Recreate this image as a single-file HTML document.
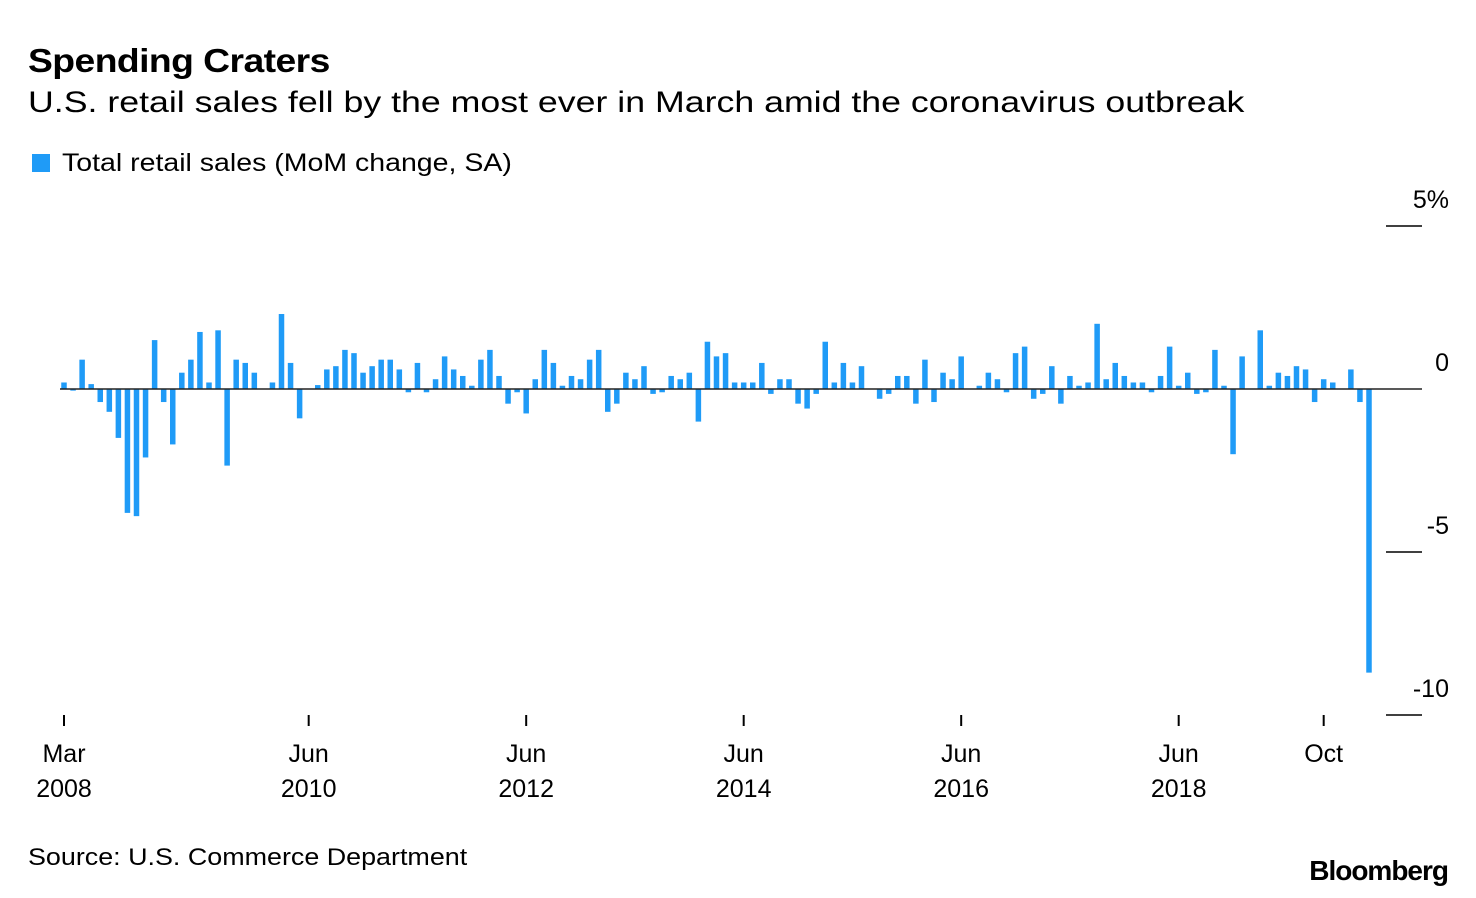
<!DOCTYPE html>
<html><head><meta charset="utf-8"><style>
body{margin:0;background:#fff;width:1476px;height:898px;overflow:hidden;font-family:"Liberation Sans",sans-serif;color:#000}
.t{position:absolute;white-space:nowrap;transform-origin:0 0}
</style></head><body>
<div class="t" style="left:28px;top:42px;font-size:33px;font-weight:bold;letter-spacing:-0.5px;transform:scaleX(1.13)">Spending Craters</div>
<div class="t" style="left:28px;top:86px;font-size:30px;transform:scaleX(1.19)">U.S. retail sales fell by the most ever in March amid the coronavirus outbreak</div>
<div class="t" style="left:32px;top:149px;font-size:25px"><span style="display:inline-block;width:18px;height:18px;background:#1f9bf7;margin-right:12px;vertical-align:-1px"></span><span style="display:inline-block;transform:scaleX(1.14);transform-origin:0 0">Total retail sales (MoM change, SA)</span></div>
<svg id="chart" width="1476" height="898" style="position:absolute;left:0;top:0"></svg>
<div class="t" style="left:28px;top:844px;font-size:24px;transform:scaleX(1.12)">Source: U.S. Commerce Department</div>
<div class="t" style="right:28px;top:855px;font-size:28px;font-weight:bold;letter-spacing:-1px">Bloomberg</div>
<script>
const values=[0.2,-0.05,0.9,0.15,-0.4,-0.7,-1.5,-3.8,-3.9,-2.1,1.5,-0.4,-1.7,0.5,0.9,1.75,0.2,1.8,-2.35,0.9,0.8,0.5,0.0,0.2,2.3,0.8,-0.9,0.0,0.12,0.6,0.7,1.2,1.1,0.5,0.7,0.9,0.9,0.6,-0.1,0.8,-0.1,0.3,1.0,0.6,0.4,0.1,0.9,1.2,0.4,-0.45,-0.1,-0.75,0.3,1.2,0.8,0.1,0.4,0.3,0.9,1.2,-0.7,-0.45,0.5,0.3,0.7,-0.15,-0.1,0.4,0.3,0.5,-1.0,1.45,1.0,1.1,0.2,0.2,0.2,0.8,-0.15,0.3,0.3,-0.45,-0.6,-0.15,1.45,0.2,0.8,0.2,0.7,0.0,-0.3,-0.15,0.4,0.4,-0.45,0.9,-0.4,0.5,0.3,1.0,0.0,0.1,0.5,0.3,-0.1,1.1,1.3,-0.3,-0.15,0.7,-0.45,0.4,0.1,0.2,2.0,0.3,0.8,0.4,0.2,0.2,-0.1,0.4,1.3,0.1,0.5,-0.15,-0.1,1.2,0.1,-2.0,1.0,0.0,1.8,0.1,0.5,0.4,0.7,0.6,-0.4,0.3,0.2,0.0,0.6,-0.4,-8.7];
const yTicks=[5,0,-5,-10];
const yTickLabels=["5%","0","-5","-10"];
const xTickIdx=[0,27,51,75,99,123,139];
const xTickTop=["Mar","Jun","Jun","Jun","Jun","Jun","Oct"];
const xTickBottom=["2008","2010","2012","2014","2016","2018",""];
const NS="http://www.w3.org/2000/svg";
const svg=document.getElementById('chart');
const x=i=>64+i*(1305/144);
const y=v=>389-v*32.6;
function mk(tag,attrs){const e=document.createElementNS(NS,tag);for(const k in attrs)e.setAttribute(k,attrs[k]);svg.appendChild(e);return e;}
yTicks.forEach((t,k)=>{
  if(t!==0){const l=mk('line',{x1:1386,x2:1422,y1:y(t),y2:y(t),stroke:'#000','stroke-width':1.5});
  
  }
  const tx=mk('text',{x:1449,y:y(t)-18,'text-anchor':'end','font-size':25,'font-family':'Liberation Sans, sans-serif'});
  tx.textContent=yTickLabels[k];
  
  
});
values.forEach((v,i)=>{
  const y0=Math.min(y(v),y(0)),h=Math.max(Math.abs(y(v)-y(0)),0.5);
  const r=mk('rect',{x:x(i)-2.75,y:y0,width:5.5,height:h,fill:'#1f9bf7'});
  
  
});
const zl=mk('line',{x1:60,x2:1422,y1:y(0),y2:y(0),stroke:'#222','stroke-width':1.5});


xTickIdx.forEach((idx,k)=>{
  const l=mk('line',{x1:x(idx),x2:x(idx),y1:715,y2:726,stroke:'#000','stroke-width':2});
  
  
  const a=mk('text',{x:x(idx),y:762,'text-anchor':'middle','font-size':25,'font-family':'Liberation Sans, sans-serif'});
  a.textContent=xTickTop[k];
  
  
  const b=mk('text',{x:x(idx),y:797,'text-anchor':'middle','font-size':25,'font-family':'Liberation Sans, sans-serif'});
  b.textContent=xTickBottom[k];
  
  
});
</script>
</body></html>
